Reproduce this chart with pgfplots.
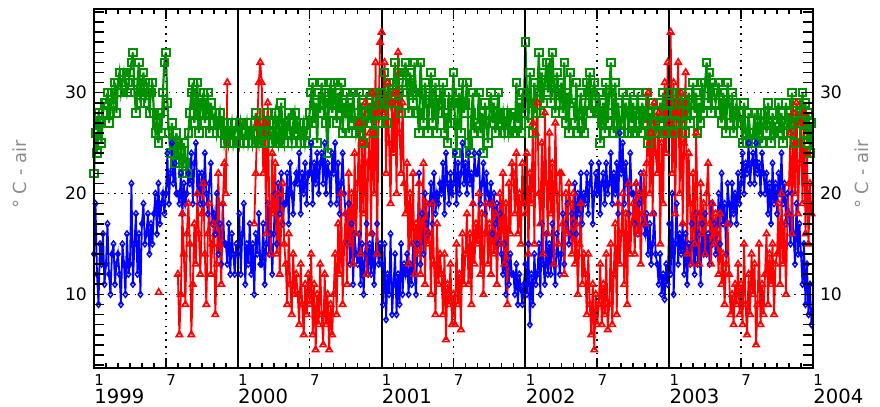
\documentclass[border=0pt]{standalone}
\usepackage{pgfplots}
\pgfplotsset{compat=1.18}
\usepackage{pgfplotstable}
\usepackage{fontspec}
\setmainfont{DejaVu Sans}
\definecolor{sgreen}{RGB}{0,145,0}
\definecolor{sblue}{RGB}{0,0,255}
\definecolor{sred}{RGB}{255,0,0}
\definecolor{lblgray}{RGB}{140,140,140}
\newcommand\mon{\fontsize{7.5}{9}\selectfont}
\newcommand\yr{\fontsize{9.8}{9}\selectfont}

% 8 samples per month, Jan 1999 - Dec 2003, one month per line
\pgfplotstableread[header=false,row sep=\\]{
22\\26\\24\\28\\27\\25\\28\\29\\
29\\30\\27\\28\\30\\29\\31\\28\\
31\\32\\30\\31\\32\\31\\30\\31\\
32\\33\\34\\30\\28\\31\\33\\29\\
31\\32\\29\\30\\31\\28\\30\\31\\
28\\26\\27\\25\\28\\26\\30\\33\\
34\\29\\26\\24\\27\\25\\23\\26\\
25\\23\\24\\22\\25\\23\\22\\26\\
28\\30\\31\\27\\29\\31\\26\\28\\
29\\30\\27\\28\\30\\26\\29\\28\\
27\\28\\26\\27\\28\\26\\27\\25\\
26\\27\\25\\26\\27\\25\\26\\27\\
26\\25\\27\\26\\25\\26\\27\\25\\
26\\27\\25\\26\\28\\26\\25\\27\\
26\\27\\25\\26\\28\\27\\26\\25\\
27\\28\\26\\25\\27\\29\\26\\25\\
27\\26\\28\\26\\25\\27\\28\\26\\
26\\27\\25\\26\\27\\25\\26\\27\\
28\\30\\31\\27\\29\\25\\30\\28\\
31\\29\\30\\27\\24\\30\\31\\28\\
29\\31\\27\\30\\28\\31\\26\\29\\
28\\30\\26\\29\\27\\30\\28\\26\\
27\\30\\26\\29\\25\\28\\30\\27\\
29\\27\\30\\26\\28\\30\\27\\29\\
30\\28\\32\\29\\27\\31\\29\\30\\
31\\33\\29\\32\\30\\28\\31\\32\\
33\\30\\28\\32\\31\\29\\33\\30\\
28\\26\\33\\30\\27\\31\\29\\26\\
30\\32\\27\\29\\31\\26\\28\\30\\
29\\31\\26\\28\\25\\30\\27\\29\\
32\\27\\24\\29\\30\\26\\31\\28\\
29\\31\\25\\24\\28\\30\\26\\27\\
27\\30\\26\\28\\24\\29\\27\\25\\
28\\30\\27\\29\\26\\28\\30\\27\\
27\\28\\26\\27\\28\\26\\27\\28\\
28\\26\\31\\27\\29\\26\\30\\28\\
35\\30\\27\\32\\29\\26\\31\\28\\
30\\34\\28\\32\\29\\31\\33\\30\\
33\\29\\34\\31\\28\\32\\30\\29\\
31\\28\\33\\27\\30\\26\\32\\29\\
29\\27\\31\\26\\28\\30\\27\\26\\
29\\31\\30\\32\\28\\30\\31\\29\\
28\\30\\25\\27\\29\\26\\31\\27\\
30\\33\\28\\26\\31\\27\\29\\26\\
27\\30\\26\\29\\28\\26\\30\\27\\
29\\26\\28\\30\\27\\26\\29\\28\\
27\\30\\25\\28\\26\\29\\27\\26\\
28\\26\\29\\27\\30\\26\\28\\27\\
29\\27\\30\\26\\28\\30\\27\\29\\
30\\27\\29\\26\\28\\30\\27\\29\\
31\\28\\30\\26\\29\\27\\31\\28\\
31\\33\\29\\32\\28\\31\\30\\29\\
30\\31\\28\\27\\30\\29\\26\\31\\
29\\27\\30\\26\\28\\29\\27\\28\\
27\\25\\29\\26\\25\\28\\26\\25\\
26\\28\\25\\27\\26\\28\\25\\27\\
28\\26\\29\\27\\25\\28\\26\\27\\
27\\29\\26\\28\\25\\27\\29\\26\\
28\\26\\30\\27\\25\\29\\27\\28\\
27\\30\\26\\29\\25\\28\\24\\27\\
}\greendata

\pgfplotstableread[header=false,row sep=\\]{
14\\19\\12\\9\\15\\13\\16\\11\\
13\\17\\12\\10\\14\\15\\11\\13\\
14\\12\\9\\15\\13\\10\\16\\12\\
13\\21\\11\\15\\18\\12\\16\\10\\
17\\19\\15\\16\\18\\14\\17\\15\\
18\\20\\16\\21\\17\\19\\20\\18\\
20\\24\\19\\22\\25\\21\\23\\20\\
20\\19\\22\\18\\21\\19\\20\\22\\
21\\24\\19\\23\\25\\20\\22\\19\\
22\\19\\24\\20\\18\\21\\23\\17\\
18\\16\\20\\14\\17\\13\\19\\15\\
15\\13\\17\\12\\16\\14\\12\\15\\
14\\18\\12\\16\\19\\11\\15\\13\\
17\\12\\15\\10\\16\\14\\18\\13\\
13\\17\\11\\15\\19\\14\\16\\12\\
16\\20\\15\\21\\18\\22\\17\\19\\
19\\22\\17\\23\\20\\18\\21\\22\\
21\\24\\18\\22\\20\\23\\19\\22\\
22\\25\\19\\23\\21\\24\\20\\23\\
24\\21\\25\\20\\23\\22\\19\\24\\
22\\25\\19\\23\\18\\21\\24\\20\\
18\\15\\19\\13\\17\\11\\16\\14\\
13\\16\\11\\15\\10\\14\\17\\12\\
15\\12\\16\\11\\14\\17\\13\\15\\
13\\9\\15\\7.5\\12\\10\\16\\8\\
11\\14\\8\\12\\9\\15\\10\\13\\
12\\14\\10\\13\\11\\15\\12\\10\\
15\\22\\13\\18\\14\\20\\17\\16\\
19\\21\\17\\22\\18\\20\\19\\21\\
20\\23\\18\\24\\21\\19\\22\\20\\
21\\24\\19\\23\\20\\22\\25\\21\\
23\\20\\24\\21\\22\\19\\24\\22\\
22\\24\\19\\21\\23\\18\\22\\20\\
19\\21\\16\\20\\17\\19\\15\\18\\
14\\12\\15\\10\\13\\11\\14\\12\\
12\\10\\13\\9\\12\\10.5\\9\\11\\
13\\10\\15\\7\\12\\9\\14\\11\\
12\\15\\10\\17\\13\\11\\16\\12\\
15\\12\\17\\13\\11\\16\\14\\12\\
14\\18\\13\\17\\19\\15\\16\\18\\
17\\21\\16\\20\\18\\22\\17\\20\\
19\\22\\18\\21\\23\\17\\20\\22\\
20\\23\\18\\21\\22\\19\\23\\20\\
21\\24\\19\\22\\20\\23\\18\\26\\
22\\25\\19\\23\\21\\18\\24\\20\\
20\\17\\21\\16\\19\\22\\18\\17\\
16\\18\\14\\17\\13\\15\\18\\14\\
13\\11\\14\\10\\12\\9.5\\13\\11\\
17\\12\\20\\10\\15\\19\\13\\16\\
14\\17\\12\\16\\11\\15\\13\\17\\
15\\12\\18\\13\\16\\11\\17\\14\\
18\\14\\16\\13\\19\\15\\17\\14\\
16\\20\\15\\22\\17\\19\\14\\21\\
19\\17\\21\\18\\20\\17\\22\\19\\
21\\24\\20\\23\\22\\25\\21\\23\\
24\\21\\25\\22\\23\\20\\24\\22\\
20\\22\\18\\21\\17\\23\\19\\21\\
18\\22\\20\\24\\19\\21\\17\\20\\
18\\15\\20\\16\\13\\19\\14\\17\\
14\\11\\15\\9\\13\\8\\11\\7\\
}\bluedata

% red starts August 1999
\pgfplotstableread[header=false,row sep=\\]{
12\\6\\10\\18\\14\\9\\16\\19\\
15\\6\\11\\17\\13\\20\\16\\12\\
18\\21\\14\\9\\16\\19\\12\\15\\
17\\8\\13\\22\\15\\11\\19\\23\\
20\\31\\nan\\nan\\nan\\nan\\nan\\nan\\
nan\\nan\\nan\\nan\\nan\\nan\\nan\\nan\\
nan\\nan\\nan\\17\\22\\27\\31\\33\\
31\\22\\27\\16\\29\\19\\14\\24\\
18\\23\\14\\20\\12\\17\\21\\15\\
13\\9\\16\\11\\8\\14\\10\\12\\
10\\7\\13\\9\\6\\11\\8\\12\\
9\\14\\6\\11\\4.5\\10\\7\\13\\
8\\5\\12\\7\\10\\4.5\\9\\6\\
10\\14\\8\\17\\12\\20\\9\\15\\
18\\11\\22\\15\\20\\13\\24\\16\\
21\\27\\14\\25\\18\\29\\12\\23\\
26\\16\\30\\20\\33\\14\\28\\35\\
36\\28\\33\\22\\31\\25\\19\\29\\
24\\30\\20\\34\\26\\22\\29\\21\\
18\\23\\13\\20\\15\\22\\12\\17\\
14\\21\\12\\17\\23\\11\\19\\15\\
16\\10\\19\\13\\8\\17\\11\\14\\
12\\8\\14\\5.5\\11\\9\\13\\7\\
10\\7\\15\\9\\12\\6.5\\16\\11\\
14\\18\\11\\16\\9\\19\\13\\17\\
15\\20\\12\\18\\10\\16\\19\\13\\
17\\12\\19\\14\\18\\11\\16\\20\\
15\\22\\13\\19\\9\\21\\16\\23\\
22\\18\\24\\16\\20\\15\\23\\19\\
18\\24\\14\\22\\19\\27\\15\\26\\
29\\20\\17\\25\\14\\28\\21\\16\\
26\\18\\23\\13\\27\\20\\15\\22\\
22\\17\\12\\20\\16\\21\\19\\14\\
20\\13\\17\\10\\15\\19\\11\\14\\
12\\8\\14\\9\\6\\11\\4.5\\10\\
7\\9\\13\\7\\11\\8\\14\\6.5\\
9\\15\\7\\12\\17\\8\\19\\13\\
16\\20\\11\\18\\9\\21\\14\\17\\
19\\14\\21\\16\\20\\13\\18\\22\\
17\\23\\30\\20\\26\\18\\29\\24\\
22\\28\\15\\25\\19\\31\\24\\33\\
27\\36\\22\\31\\18\\28\\33\\20\\
30\\17\\25\\32\\14\\24\\19\\13\\
22\\15\\26\\18\\13\\21\\16\\19\\
14\\20\\23\\17\\13\\19\\15\\18\\
16\\12\\18\\11\\14\\9\\13\\17\\
12\\8\\10\\7\\11\\9\\13\\8\\
11\\7\\15\\9\\6\\12\\8\\14\\
10\\13\\5\\9\\15\\7\\11\\8\\
12\\16\\9\\14\\11\\15\\8\\13\\
14\\19\\11\\20\\13\\17\\10\\18\\
21\\26\\16\\28\\20\\29\\18\\23\\
27\\19\\28\\16\\24\\15\\21\\18\\
}\reddata

\begin{document}
\begin{tikzpicture}
\useasboundingbox (-47pt,-19.5pt) rectangle (393pt,184pt);
\begin{axis}[
    at={(0,0)}, anchor=south west,
    scale only axis,
    width=359.5pt, height=179.25pt,
    xmin=0, xmax=60, ymin=2.7, ymax=38.25,
    axis on top,
    axis line style={line width=1pt},
    xtick={6,18,30,42,54},
    xticklabels={\mon 7,\mon 7,\mon 7,\mon 7,\mon 7},
    extra x ticks={0,12,24,36,48,60},
    extra x tick labels={{\mon 1\\\yr 1999},{\mon 1\\\yr 2000},{\mon 1\\\yr 2001},{\mon 1\\\yr 2002},{\mon 1\\\yr 2003},{\mon 1\\\yr 2004}},
    extra x tick style={major grid style={solid, line width=1pt, black}},
    minor xtick={1,...,59},
    xmajorgrids, ymajorgrids,
    major grid style={black, line width=0.8pt, dash pattern=on 0.8pt off 2.6pt},
    ytick={10,20,30}, yticklabels={10,20,30},
    yticklabel style={font=\fontsize{8.6}{9}\selectfont},
    xticklabel style={anchor=north west, align=left, inner sep=0pt, yshift=-3pt, font=\fontsize{9.8}{9}\selectfont},
    major tick length=5pt, minor tick length=2.5pt,
    tick style={black, line width=0.8pt},
    ylabel={° C - air},
    ylabel style={at={(axis description cs:-0.103,0.54)}, anchor=center, text=lblgray, font=\fontsize{9}{10}\selectfont},
    unbounded coords=jump,
]
\addplot[sgreen, line width=1.1pt, mark=square, mark size=1.9pt, mark options={solid, line width=1pt}]
    table[x expr=\coordindex/8, y index=0] {\greendata};
\addplot[sblue, line width=0.9pt, mark=diamond, mark size=1.5pt, mark options={solid, line width=0.7pt}]
    table[x expr=\coordindex/8, y index=0] {\bluedata};
\addplot[sred, line width=0.9pt, mark=triangle, mark size=1.8pt, mark options={solid, line width=0.8pt}]
    table[x expr=7+\coordindex/8, y index=0] {\reddata};
\addplot[sred, only marks, mark=triangle, mark size=1.8pt, mark options={line width=0.8pt}]
    coordinates {(5.4,10.2)};
\end{axis}
\begin{axis}[
    at={(0,0)}, anchor=south west,
    scale only axis,
    width=359.5pt, height=179.25pt,
    xmin=0, xmax=60, ymin=2.7, ymax=38.25,
    hide x axis,
    axis line style={line width=1pt},
    ytick={10,20,30}, yticklabels={10,20,30},
    yticklabel pos=right,
    yticklabel style={font=\fontsize{8.6}{9}\selectfont},
    minor ytick={3,...,38},
    major tick length=5pt, minor tick length=5pt,
    tick style={black, line width=0.8pt},
    ylabel={° C - air},
    ylabel style={at={(axis description cs:1.068,0.54)}, anchor=center, text=lblgray, font=\fontsize{9}{10}\selectfont},
]
\end{axis}
\end{tikzpicture}
\end{document}
